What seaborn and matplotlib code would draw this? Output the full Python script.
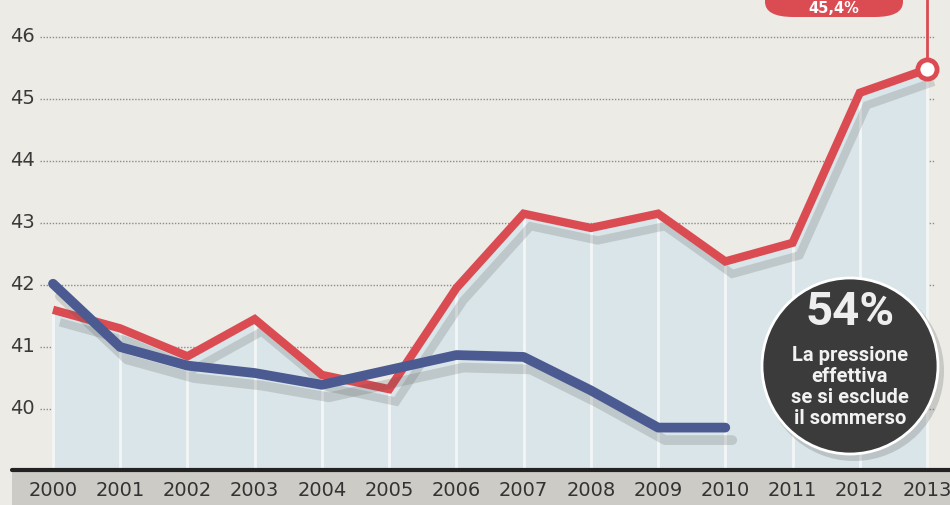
import matplotlib
matplotlib.use("Agg")
import matplotlib.pyplot as plt
import matplotlib.patheffects as pe
from matplotlib.patches import Ellipse, FancyBboxPatch, Rectangle
import seaborn as sns
import pandas as pd

# ---- data ----
years = list(range(2000, 2014))
red_values = [41.6, 41.3, 40.85, 41.45, 40.55, 40.32, 41.95, 43.15, 42.92, 43.15, 42.38, 42.68, 45.1, 45.48]
blue_years = list(range(2000, 2011))
blue_values = [42.02, 41.0, 40.7, 40.58, 40.39, 40.63, 40.87, 40.84, 40.3, 39.7, 39.7]
y_ticks = [40, 41, 42, 43, 44, 45, 46]
y_tick_labels = ["40", "41", "42", "43", "44", "45", "46"]
top_label = "45,4%"
circle_title = "54%"
circle_text = "La pressione\neffettiva\nse si esclude\nil sommerso"

sns.set_theme(style="white")
plt.rcParams['font.family'] = ['DejaVu Sans']

W, H = 950, 505
BG = "#ecebe6"
RED = "#da4c52"
BLUE = "#4b5a90"
FILL = "#d9e5e9"

fig = plt.figure(figsize=(W / 100, H / 100), dpi=100, facecolor=BG)

# grey band below the axis (drawn first, behind everything)
fig.patches.append(Rectangle((12 / W, 0), 1 - 12 / W, 35 / H, transform=fig.transFigure,
                             facecolor="#cdcbc5", edgecolor="none", zorder=-5))

ax = fig.add_axes([0, 35 / H, 1, 470 / H])
ax.set_facecolor("none")

# axis limits (2000 at px 53, 2013 at px 927; 40 at px 409, 62 px/unit)
ppy = (927 - 53) / 13
ax.set_xlim(2000 - 53 / ppy, 2013 + (W - 927) / ppy)
ax.set_ylim(40 - (470 - 409) / 62, 40 + 409 / 62)

# dotted horizontal grid
for v in y_ticks:
    ax.axhline(v, xmin=40 / W, xmax=935 / W, color="#8c8c8c", lw=1.0, ls=(0, (1, 1.2)), zorder=1)

# light-blue area below the red line
ax.fill_between(years, red_values, ax.get_ylim()[0], color=FILL, zorder=2, lw=0)
# vertical white separators within the area
ax.vlines(years, ax.get_ylim()[0], red_values, color="#f4f6f6", lw=2.0, zorder=2.5)

df_red = pd.DataFrame({"year": years, "value": red_values})
df_blue = pd.DataFrame({"year": blue_years, "value": blue_values})

shadow = [pe.SimpleLineShadow(offset=(5, -9), shadow_color="#555555", alpha=0.2), pe.Normal()]
sns.lineplot(data=df_red, x="year", y="value", ax=ax, color=RED, lw=6.0, zorder=4,
             solid_joinstyle="miter", solid_capstyle="butt", path_effects=shadow)
sns.lineplot(data=df_blue, x="year", y="value", ax=ax, color=BLUE, lw=7.0, zorder=5,
             solid_joinstyle="round", solid_capstyle="round", path_effects=shadow)

# end marker for the red series + leader line to the top label
ax.plot([years[-1], years[-1]], [red_values[-1], ax.get_ylim()[1]], color=RED, lw=2.0, zorder=4)
ax.scatter([years[-1]], [red_values[-1]], s=190, facecolor="white", edgecolor=RED, linewidth=3.5, zorder=6)

# y tick labels inside the axes
ax.set_yticks([])
for v, lab in zip(y_ticks, y_tick_labels):
    ax.text(10 / W, v, lab, transform=ax.get_yaxis_transform(), ha="left", va="center",
            fontsize=14, color="#3a3a3a", zorder=3)

# x tick labels
ax.set_xticks(years)
ax.set_xticklabels([str(y) for y in years], fontsize=14, color="#333333")
ax.tick_params(axis="x", length=0, pad=8)
ax.set_xlabel("")
ax.set_ylabel("")
for s in ax.spines.values():
    s.set_visible(False)
ax.axhline(ax.get_ylim()[0], xmin=12 / W, xmax=1, color="#222222", lw=3, zorder=7, clip_on=False)

# top red label (box reaches past the top edge)
fig.patches.append(FancyBboxPatch((765 / W, 1 - 17 / H), (903 - 765) / W, 0.1,
                                  boxstyle="round,pad=0,rounding_size=0.03", transform=fig.transFigure,
                                  facecolor=RED, edgecolor="none", zorder=5))
fig.text(834 / W, 1 - 8.5 / H, top_label, ha="center", va="center", fontsize=10.5,
         fontweight="bold", color="white", zorder=6)

# dark circle annotation
fig.patches.append(Ellipse((854 / W, 1 - 371 / H), 180 / W, 180 / H, transform=fig.transFigure,
                           facecolor="#777777", alpha=0.3, edgecolor="none", zorder=5))
fig.patches.append(Ellipse((850 / W, 1 - 366 / H), 176 / W, 176 / H, transform=fig.transFigure,
                           facecolor="#3b3b3b", edgecolor="white", lw=2, zorder=6))
fig.text(850 / W, 1 - 312 / H, circle_title, ha="center", va="center", fontsize=34,
         fontweight="bold", color="#eeeeee", family=["Roboto", "DejaVu Sans"], zorder=7)
fig.text(850 / W, 1 - 387 / H, circle_text, ha="center", va="center", fontsize=14.5,
         fontweight="bold", color="#f2f2f2", linespacing=1.12, family=["Roboto", "DejaVu Sans"], zorder=7)

fig.savefig("out.png", dpi=100, facecolor=BG)
